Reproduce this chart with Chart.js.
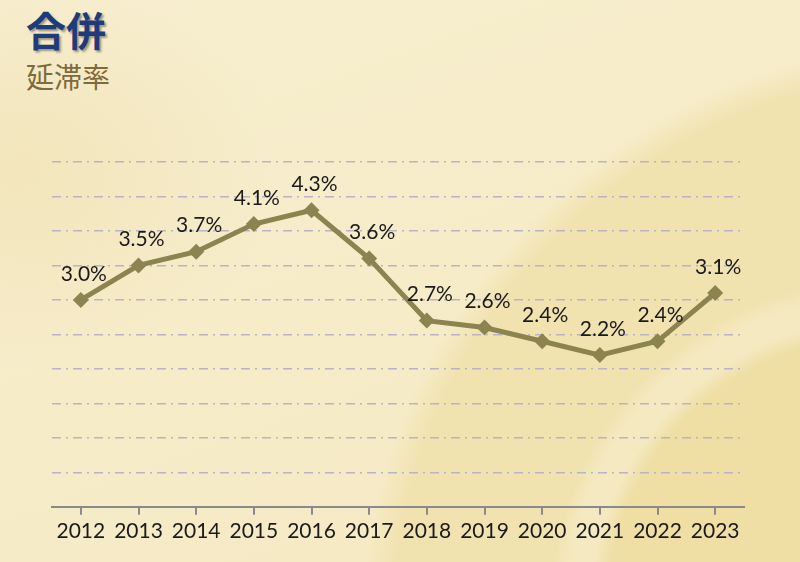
<!DOCTYPE html>
<html>
<head>
<meta charset="utf-8">
<script src="https://cdn.jsdelivr.net/npm/chart.js@4"></script>
<style>
  html, body { margin: 0; padding: 0; }
  body {
    width: 800px; height: 562px; overflow: hidden; position: relative;
    background:
      radial-gradient(circle 290px at 880px 610px, #efdfa4 0%, #efdfa4 94%, rgba(239,223,164,0) 100%),
      radial-gradient(circle 330px at 880px 610px, rgba(245,234,196,0.85) 0%, rgba(245,234,196,0.85) 95%, rgba(245,234,196,0) 100%),
      radial-gradient(circle 600px at 960px 640px, #f1e3b0 0%, #f1e3b0 95%, rgba(241,227,176,0) 100%),
      radial-gradient(ellipse 260px 200px at 20px 170px, rgba(240,226,180,0.7) 0%, rgba(240,226,180,0) 100%),
      linear-gradient(160deg, #f7eecf 0%, #f6ecc8 50%, #f5e9c2 100%);
  }
  .title { position: absolute; left: 26px; top: 3px; font-family: "Noto Sans CJK JP", sans-serif;
    font-weight: 700; font-size: 40px; color: #1f3b7c; text-shadow: 2px 2px 2px rgba(0,0,0,0.35); line-height: 1.3; }
  .sub { position: absolute; left: 26px; top: 58px; font-family: "Noto Sans CJK JP", sans-serif;
    font-size: 28px; color: #7d6b3c; line-height: 1.3; }
  #wrap { position: absolute; left: 0; top: 0; width: 800px; height: 562px; }
</style>
</head>
<body>
<div class="title">合併</div>
<div class="sub">延滞率</div>
<div id="wrap"><canvas id="lineChartRate"></canvas></div>
<script>
var years = ['2012', '2013', '2014', '2015', '2016', '2017', '2018', '2019', '2020', '2021', '2022', '2023'];
var rates = [3.0, 3.5, 3.7, 4.1, 4.3, 3.6, 2.7, 2.6, 2.4, 2.2, 2.4, 3.1];

// draws the "3.0%" labels above each point
var valueLabels = {
    id: 'valueLabels',
    afterDatasetsDraw: function (chart) {
        var c = chart.ctx;
        var meta = chart.getDatasetMeta(0);
        c.save();
        c.font = '21px Lato, sans-serif';
        c.fillStyle = '#1a1a1a';
        c.textAlign = 'center';
        c.textBaseline = 'middle';
        meta.data.forEach(function (pt, i) {
            c.fillText(rates[i].toFixed(1) + '%', pt.x + 3, pt.y - 26);
        });
        c.restore();
    }
};

var ctx1 = document.getElementById('lineChartRate').getContext('2d');
var myChart1 = new Chart(ctx1, {
    type: 'line',
    data: {
        labels: years,
        datasets: [{
            label: '延滞率',
            data: rates,
            borderColor: '#8b8350',
            backgroundColor: '#8b8350',
            borderWidth: 5,
            pointStyle: 'rectRot',
            pointRadius: 8,
            pointBorderWidth: 0,
            tension: 0
        }]
    },
    options: {
        responsive: true,
        maintainAspectRatio: false,
        animation: false,
        layout: { padding: { left: 52, right: 56, top: 162, bottom: 14 } },
        plugins: { legend: { display: false }, tooltip: { enabled: false } },
        scales: {
            x: {
                offset: true,
                grid: { drawOnChartArea: false, tickLength: 8, color: '#8a8a8a', lineWidth: 2 },
                border: { color: '#8a8a8a', width: 2 },
                ticks: { color: '#1a1a1a', font: { family: 'Lato, sans-serif', size: 21 }, padding: 4, maxRotation: 0 }
            },
            y: {
                min: 0,
                max: 5,
                afterFit: function (s) { s.width = 0; },
                ticks: { display: false, stepSize: 0.5 },
                border: { display: false, dash: [9, 5, 2, 5] },
                grid: {
                    drawTicks: false,
                    lineWidth: 1.5,
                    color: function (c) { return c.tick && c.tick.value === 0 ? 'rgba(0,0,0,0)' : '#b9b3c4'; }
                }
            }
        }
    },
    plugins: [valueLabels]
});
</script>
</body>
</html>
